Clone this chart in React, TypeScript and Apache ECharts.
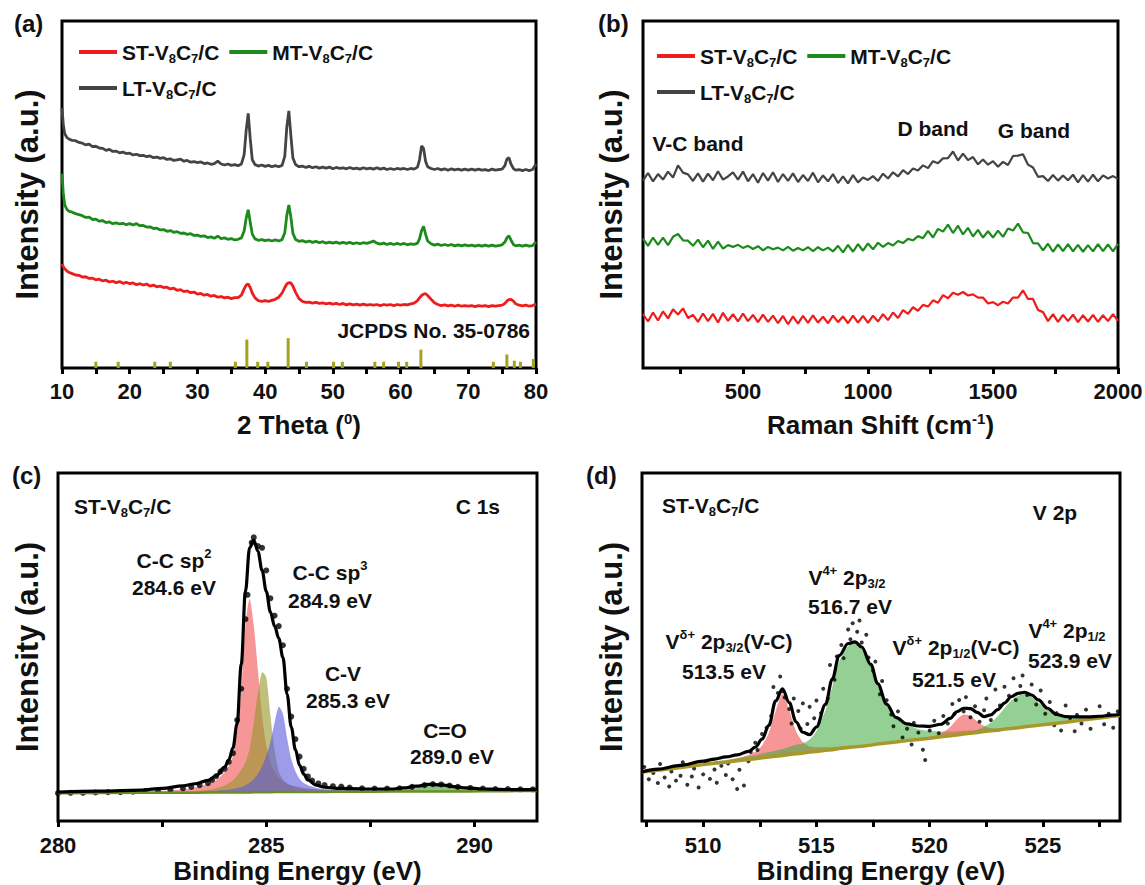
import React, { useEffect, useRef } from 'react';
import * as echarts from 'echarts';

const FONT = 'Arial, "Liberation Sans", Helvetica, sans-serif';
const INK = '#111111';

// ---------------- (a) XRD ----------------
const xrdTheta = [
  10, 10.2, 10.4, 10.7, 11, 11.5, 12, 12.5, 13, 13.5,
  14, 14.5, 15, 15.5, 16, 16.5, 17, 17.5, 18, 18.5,
  19, 19.5, 20, 20.5, 21, 21.5, 22, 22.5, 23, 23.5,
  24, 24.5, 25, 25.5, 26, 26.5, 27, 27.5, 28, 28.5,
  29, 29.5, 30, 30.5, 31, 31.5, 32, 32.5, 33, 33.5,
  34, 34.5, 35, 35.5, 36, 36.5, 36.9, 37.2, 37.5, 37.8,
  38.1, 38.5, 39, 39.5, 40, 40.5, 41, 41.5, 42, 42.5,
  42.9, 43.2, 43.5, 43.8, 44.1, 44.5, 45, 45.5, 46, 46.5,
  47, 47.5, 48, 48.5, 49, 49.5, 50, 50.5, 51, 51.5,
  52, 52.5, 53, 53.5, 54, 54.5, 55, 55.5, 56, 56.5,
  57, 57.5, 58, 58.5, 59, 59.5, 60, 60.5, 61, 61.5,
  62, 62.5, 62.8, 63.1, 63.4, 63.7, 64, 64.5, 65, 65.5,
  66, 66.5, 67, 67.5, 68, 68.5, 69, 69.5, 70, 70.5,
  71, 71.5, 72, 72.5, 73, 73.5, 74, 74.5, 75, 75.4,
  75.7, 76, 76.3, 76.7, 77, 77.5, 78, 78.5, 79, 79.5,
  80,
];
const xrdLT = [
  74.9, 70.0, 67.5, 66.5, 66.0, 65.6, 65.5, 65.0, 64.8, 64.3,
  64.5, 63.8, 63.9, 63.4, 63.3, 62.7, 63.0, 62.4, 62.5, 62.0,
  62.2, 61.8, 61.9, 61.4, 61.6, 61.2, 61.3, 60.9, 61.1, 60.6,
  60.8, 60.4, 60.6, 60.1, 60.3, 59.8, 60.0, 60.2, 59.6, 59.8,
  59.3, 59.5, 59.2, 59.4, 58.9, 59.1, 58.7, 58.9, 59.6, 58.8,
  58.5, 58.8, 58.4, 58.6, 58.3, 58.8, 61.5, 68.5, 73.4, 66.0,
  60.0, 58.6, 58.2, 58.5, 58.1, 58.4, 58.0, 58.3, 58.0, 58.4,
  61.0, 69.5, 74.1, 67.0, 60.5, 58.6, 58.0, 58.2, 57.8, 58.1,
  57.7, 58.0, 57.6, 57.9, 57.6, 57.9, 57.4, 57.8, 57.5, 57.7,
  57.4, 57.8, 57.4, 57.6, 57.3, 57.7, 57.4, 57.6, 57.3, 57.7,
  57.3, 57.6, 57.2, 57.5, 57.2, 57.5, 57.3, 57.5, 57.2, 57.5,
  57.3, 57.9, 60.0, 64.0, 63.2, 59.5, 58.0, 57.5, 57.2, 57.5,
  57.1, 57.4, 57.0, 57.4, 57.1, 57.3, 57.0, 57.3, 57.0, 57.3,
  57.0, 57.3, 57.0, 57.2, 56.9, 57.3, 57.0, 57.2, 57.3, 58.3,
  60.2, 60.6, 58.8, 57.4, 57.0, 57.2, 56.9, 57.2, 56.9, 57.2,
  58.8,
];
const xrdMT = [
  56.0, 50.0, 47.0, 45.8, 45.2, 44.9, 44.5, 44.2, 43.9, 43.4,
  43.5, 42.8, 42.9, 42.3, 42.5, 41.9, 42.1, 41.6, 41.8, 41.5,
  41.7, 41.3, 41.6, 41.2, 41.6, 41.0, 41.1, 40.6, 40.7, 40.2,
  40.3, 39.8, 39.9, 39.4, 39.6, 39.1, 39.3, 38.8, 38.9, 38.5,
  38.7, 38.2, 38.3, 37.9, 38.1, 37.6, 37.8, 37.4, 38.0, 37.3,
  37.5, 37.1, 37.3, 36.9, 37.1, 37.5, 39.5, 43.2, 45.6, 42.0,
  38.6, 37.2, 36.8, 37.0, 36.7, 36.9, 36.6, 36.9, 36.6, 37.0,
  39.0, 44.0, 47.0, 43.5, 38.8, 37.0, 36.5, 36.7, 36.3, 36.6,
  36.2, 36.5, 36.1, 36.4, 36.0, 36.3, 36.0, 36.3, 35.9, 36.2,
  35.9, 36.2, 35.8, 36.1, 35.8, 36.1, 35.9, 36.2, 36.6, 36.0,
  35.7, 36.0, 35.6, 35.9, 35.6, 35.9, 35.6, 35.9, 35.5, 35.8,
  35.6, 36.0, 37.2, 39.6, 40.8, 38.5, 36.6, 35.8, 35.4, 35.7,
  35.3, 35.6, 35.3, 35.6, 35.2, 35.5, 35.2, 35.5, 35.2, 35.4,
  35.1, 35.4, 35.1, 35.4, 35.1, 35.4, 35.1, 35.3, 35.5, 36.3,
  37.5, 38.1, 36.9, 35.5, 35.2, 35.4, 35.1, 35.4, 35.1, 35.3,
  36.3,
];
const xrdST = [
  30.0, 29.2, 28.6, 28.0, 27.6, 27.2, 26.8, 26.7, 26.2, 26.3,
  25.8, 25.9, 25.4, 25.6, 25.1, 25.3, 24.8, 25.0, 24.6, 24.9,
  24.4, 24.7, 24.3, 24.5, 24.0, 24.3, 23.9, 24.2, 23.6, 23.9,
  23.4, 23.6, 23.2, 23.3, 22.8, 23.0, 22.4, 22.6, 22.0, 22.2,
  21.7, 21.9, 21.3, 21.5, 21.0, 21.2, 20.7, 20.9, 20.4, 20.6,
  20.2, 20.4, 20.0, 20.3, 20.3, 21.0, 22.8, 23.9, 24.2, 23.2,
  21.6, 20.2, 19.4, 19.2, 19.4, 19.2, 19.5, 19.8, 20.4, 21.6,
  23.2, 24.2, 24.6, 24.5, 23.6, 21.8, 20.0, 19.2, 18.9, 19.0,
  18.7, 18.9, 18.6, 18.8, 18.5, 18.7, 18.4, 18.6, 18.3, 18.6,
  18.2, 18.5, 18.2, 18.4, 18.1, 18.4, 18.1, 18.3, 18.1, 18.3,
  18.0, 18.3, 18.1, 18.3, 18.0, 18.3, 18.1, 18.3, 18.2, 18.5,
  18.7, 19.4, 20.2, 20.9, 21.3, 21.4, 20.9, 19.8, 18.8, 18.3,
  18.0, 18.2, 17.9, 18.1, 17.8, 18.1, 17.8, 18.0, 17.8, 18.0,
  17.7, 18.0, 17.8, 18.0, 17.7, 18.0, 17.8, 18.0, 18.1, 18.6,
  19.3, 19.7, 19.8, 19.2, 18.5, 18.1, 17.9, 18.1, 17.8, 18.0,
  18.4,
];
const jcpdsTheta = [15.0, 18.3, 23.7, 26.0, 35.6, 37.3, 38.9, 40.4, 43.4, 46.1, 50.1, 51.4, 56.2, 57.5, 59.7, 60.9, 63.0, 73.7, 75.7, 76.8, 77.7, 79.6];
const jcpdsHeight = [1.8, 1.8, 1.8, 1.8, 1.8, 8.2, 1.8, 1.8, 8.6, 1.8, 1.8, 1.8, 1.8, 1.8, 1.8, 1.8, 5.3, 1.8, 3.9, 2.1, 1.8, 2.6];
const xrdTicks = [10, 15, 20, 25, 30, 35, 40, 45, 50, 55, 60, 65, 70, 75, 80];
const xrdLabels = [10, 20, 30, 40, 50, 60, 70, 80];

// ---------------- (b) Raman ----------------
const ramanShift = [
  100, 120, 140, 160, 180, 200, 220, 240, 260, 280,
  300, 320, 340, 360, 380, 400, 420, 440, 460, 480,
  500, 520, 540, 560, 580, 600, 620, 640, 660, 680,
  700, 720, 740, 760, 780, 800, 820, 840, 860, 880,
  900, 920, 940, 960, 980, 1000, 1020, 1040, 1060, 1080,
  1100, 1120, 1140, 1160, 1180, 1200, 1220, 1240, 1260, 1280,
  1300, 1320, 1340, 1360, 1380, 1400, 1420, 1440, 1460, 1480,
  1500, 1520, 1540, 1560, 1580, 1600, 1620, 1640, 1660, 1680,
  1700, 1720, 1740, 1760, 1780, 1800, 1820, 1840, 1860, 1880,
  1900, 1920, 1940, 1960, 1980, 2000,
];
const ramanLT = [
  54.0, 56.2, 53.8, 55.9, 54.3, 56.6, 54.9, 58.4, 56.3, 55.8,
  53.9, 56.1, 53.7, 56.0, 54.1, 56.7, 54.3, 55.2, 56.4, 54.3,
  56.6, 53.8, 55.9, 53.4, 56.2, 54.0, 56.4, 53.6, 55.9, 53.9,
  56.1, 53.6, 55.6, 53.9, 56.3, 53.5, 55.5, 53.8, 55.9, 53.3,
  55.2, 53.2, 55.6, 53.5, 54.9, 54.2, 55.3, 53.9, 56.0, 54.6,
  56.4, 55.2, 57.0, 55.9, 57.5, 56.9, 58.4, 57.6, 59.6, 59.0,
  60.4, 60.5, 62.4, 59.8, 61.8, 59.9, 60.8, 58.7, 60.1, 58.6,
  59.6, 58.0, 59.4, 58.5, 61.1, 61.2, 61.6, 58.6, 57.8, 55.1,
  55.3, 53.9, 55.6, 54.0, 55.5, 54.1, 55.7, 53.5, 55.6, 53.7,
  55.7, 53.8, 55.5, 54.6, 55.3, 54.5,
];
const ramanMT = [
  37.3, 35.2, 37.6, 35.5, 37.6, 35.4, 37.8, 38.6, 36.8, 36.7,
  35.2, 37.0, 34.8, 36.7, 34.3, 36.4, 34.4, 35.4, 34.9, 35.5,
  34.6, 35.2, 34.3, 35.1, 33.9, 34.9, 34.2, 34.7, 33.9, 34.9,
  33.8, 34.6, 33.9, 34.8, 33.7, 34.8, 33.9, 34.7, 33.6, 35.2,
  33.3, 35.5, 33.5, 35.7, 33.8, 35.9, 34.2, 36.1, 34.9, 36.0,
  35.3, 36.6, 36.0, 37.2, 36.8, 38.0, 37.4, 39.5, 37.6, 40.1,
  39.3, 41.3, 38.9, 41.0, 38.5, 40.4, 37.9, 39.8, 37.6, 39.4,
  37.6, 39.6, 37.8, 40.2, 39.6, 41.6, 39.1, 38.9, 36.0, 35.9,
  33.9, 35.8, 33.5, 35.6, 33.7, 35.7, 33.6, 35.5, 33.5, 35.4,
  33.6, 35.7, 33.7, 35.6, 33.6, 35.8,
];
const ramanST = [
  15.5, 13.4, 16.0, 13.7, 16.3, 14.3, 16.9, 15.4, 17.2, 14.4,
  15.3, 13.3, 15.7, 13.5, 15.6, 13.1, 15.9, 13.6, 15.5, 13.4,
  15.7, 13.5, 15.3, 13.2, 15.4, 13.3, 15.1, 12.9, 15.0, 12.6,
  14.9, 12.8, 15.0, 13.0, 15.2, 13.1, 14.8, 12.9, 15.1, 13.2,
  14.9, 12.9, 15.1, 13.1, 15.0, 13.0, 15.1, 13.4, 15.5, 13.8,
  16.0, 14.4, 16.7, 15.6, 17.5, 16.5, 18.2, 17.7, 19.5, 18.8,
  21.0, 20.1, 21.7, 21.1, 21.9, 20.9, 21.2, 20.3, 20.3, 18.6,
  19.0, 18.1, 19.1, 18.6, 20.3, 20.3, 22.4, 19.9, 19.9, 16.7,
  16.1, 13.5, 15.5, 13.3, 15.3, 13.5, 15.4, 13.2, 15.2, 13.4,
  15.3, 13.3, 15.2, 13.5, 15.5, 13.6,
];
const ramanTicks = [250, 500, 750, 1000, 1250, 1500, 1750, 2000];
const ramanLabels = [500, 1000, 1500, 2000];

// ---------------- (c) C 1s ----------------
const c1sEnergy = [
  280, 281, 282, 282.5, 283, 283.3, 283.6, 283.8, 284.0, 284.1,
  284.2, 284.3, 284.4, 284.5, 284.6, 284.7, 284.8, 284.9, 285.0, 285.1,
  285.2, 285.3, 285.4, 285.5, 285.6, 285.7, 285.8, 285.9, 286.0, 286.2,
  286.4, 286.7, 287, 287.5, 288, 288.3, 288.6, 288.9, 289.2, 289.5,
  289.8, 290.2, 290.6, 291, 291.5,
];
const c1sBackground = [
  8.0, 8.05, 8.1, 8.1, 8.15, 8.15, 8.2, 8.2, 8.2, 8.2,
  8.2, 8.2, 8.2, 8.2, 8.2, 8.25, 8.25, 8.25, 8.25, 8.25,
  8.3, 8.3, 8.3, 8.3, 8.3, 8.3, 8.3, 8.3, 8.35, 8.35,
  8.35, 8.4, 8.4, 8.4, 8.45, 8.45, 8.45, 8.5, 8.5, 8.5,
  8.5, 8.55, 8.55, 8.6, 8.6,
];
const c1sSp2 = [
  0.1, 0.2, 0.4, 0.6, 1.0, 1.5, 2.4, 3.5, 5.8, 7.6,
  10.5, 17.5, 29.0, 48.0, 55.6, 48.0, 35.0, 22.0, 13.5, 8.5,
  5.8, 4.2, 3.2, 2.5, 2.0, 1.7, 1.4, 1.2, 1.0, 0.8,
  0.6, 0.5, 0.4, 0.3, 0.2, 0.2, 0.2, 0.1, 0.1, 0.1,
  0.1, 0.1, 0.1, 0.1, 0.1,
];
const c1sSp3 = [
  0.1, 0.1, 0.2, 0.2, 0.3, 0.5, 0.8, 1.2, 2.0, 2.6,
  3.5, 4.8, 6.5, 8.7, 12.5, 20.0, 28.5, 34.5, 33.0, 22.0,
  12.0, 6.0, 3.6, 2.4, 1.8, 1.4, 1.1, 0.9, 0.8, 0.6,
  0.5, 0.4, 0.3, 0.2, 0.2, 0.1, 0.1, 0.1, 0.1, 0.1,
  0.1, 0.1, 0.1, 0.1, 0.1,
];
const c1sCV = [
  0, 0, 0.1, 0.1, 0.2, 0.2, 0.3, 0.5, 0.7, 0.8,
  1.0, 1.3, 1.6, 2.1, 2.8, 3.8, 5.3, 7.5, 10.5, 14.5,
  20.0, 24.5, 22.5, 15.5, 9.5, 6.0, 3.8, 2.6, 1.9, 1.2,
  0.8, 0.5, 0.4, 0.3, 0.2, 0.1, 0.1, 0.1, 0.1, 0.1,
  0.1, 0, 0, 0, 0,
];
const c1sCO = [
  0, 0, 0, 0, 0, 0, 0, 0, 0, 0,
  0, 0, 0, 0, 0, 0, 0, 0, 0, 0,
  0, 0, 0, 0, 0, 0, 0, 0, 0, 0,
  0, 0, 0, 0.1, 0.2, 0.5, 1.0, 1.6, 1.6, 1.1,
  0.6, 0.3, 0.1, 0.1, 0,
];
const c1sFit = [
  8.3, 8.6, 8.9, 9.4, 10.1, 10.7, 11.7, 13.0, 15.5, 17.5,
  21.0, 28.0, 45.0, 66.0, 78.5, 80.7, 77.5, 72.0, 66.0, 60.0,
  56.0, 52.5, 47.0, 36.5, 27.0, 20.5, 16.0, 13.5, 11.8, 10.3,
  9.7, 9.4, 9.3, 9.2, 9.2, 9.5, 10.0, 10.5, 10.4, 9.9,
  9.5, 9.2, 9.1, 9.0, 9.0,
];
const c1sMeasured = [
  [280.0, 8.0], [280.3, 8.1], [280.6, 8.1], [280.9, 8.2], [281.2, 8.3], [281.5, 8.3], [281.8, 8.4],
  [282.1, 8.6], [282.4, 8.8], [282.7, 9.0], [283.0, 9.4], [283.2, 9.8], [283.4, 10.3], [283.6, 10.9],
  [283.7, 11.8], [283.8, 12.9], [283.9, 14.2], [284.0, 15.0], [284.1, 17.0], [284.2, 19.5], [284.3, 29.0],
  [284.4, 38.0], [284.5, 58.0], [284.55, 65.0], [284.65, 80.0], [284.7, 81.5], [284.8, 79.0], [284.9, 78.5],
  [285.0, 72.0], [285.1, 64.0], [285.2, 59.0], [285.3, 56.0], [285.4, 50.5], [285.5, 38.0], [285.6, 30.0],
  [285.7, 23.5], [285.8, 18.5], [285.9, 15.0], [286.0, 12.8], [286.1, 11.6], [286.25, 10.8], [286.4, 10.3],
  [286.6, 10.0], [286.8, 9.9], [287.0, 9.6], [287.3, 9.4], [287.6, 9.3], [287.9, 9.3], [288.2, 9.4],
  [288.5, 9.8], [288.8, 10.3], [289.0, 10.6], [289.2, 10.5], [289.4, 10.2], [289.6, 9.8], [289.9, 9.5],
  [290.2, 9.3], [290.5, 9.2], [290.8, 9.2], [291.1, 9.1], [291.4, 9.1],
];
const c1sTicks = [280, 282.5, 285, 287.5, 290];
const c1sLabels = [280, 285, 290];

// ---------------- (d) V 2p ----------------
const v2pEnergy = [
  507.3, 508, 509, 510, 510.5, 511, 511.5, 512, 512.3, 512.6,
  512.9, 513.2, 513.5, 513.8, 514.1, 514.4, 514.7, 515.0, 515.4, 515.7,
  516.0, 516.4, 516.7, 517.0, 517.4, 517.7, 518.1, 518.5, 519.0, 519.5,
  520.0, 520.5, 520.9, 521.2, 521.5, 521.8, 522.1, 522.4, 522.7, 523.0,
  523.3, 523.6, 523.9, 524.2, 524.5, 524.8, 525.2, 525.6, 526.0, 526.5,
  527.0, 527.5, 528.0, 528.4,
];
const v2pBackground = [
  14.1, 14.6, 15.4, 16.2, 16.6, 16.9, 17.3, 17.7, 17.9, 18.2,
  18.4, 18.6, 18.8, 19.1, 19.3, 19.5, 19.8, 20.0, 20.3, 20.5,
  20.8, 21.1, 21.3, 21.5, 21.8, 22.1, 22.4, 22.7, 23.1, 23.4,
  23.8, 24.2, 24.5, 24.7, 25.0, 25.2, 25.4, 25.7, 25.9, 26.1,
  26.4, 26.6, 26.8, 27.1, 27.3, 27.5, 27.8, 28.1, 28.4, 28.8,
  29.2, 29.6, 30.0, 30.3,
];
const v2pVd32 = [
  0.1, 0.1, 0.2, 0.3, 0.4, 0.5, 0.8, 1.3, 2.0, 3.5,
  7.0, 13.0, 17.7, 12.8, 6.5, 3.2, 1.6, 1.2, 0.9, 0.7,
  0.6, 0.5, 0.4, 0.3, 0.3, 0.2, 0.2, 0.2, 0.1, 0.1,
  0.1, 0.1, 0, 0, 0, 0, 0, 0, 0, 0,
  0, 0, 0, 0, 0, 0, 0, 0, 0, 0,
  0, 0, 0, 0,
];
const v2pV4p32 = [
  0.2, 0.2, 0.3, 0.4, 0.5, 0.6, 0.7, 0.9, 1.0, 1.2,
  1.4, 1.6, 1.9, 2.2, 2.6, 2.8, 3.6, 5.8, 11.5, 18.0,
  25.0, 29.2, 30.0, 28.6, 23.0, 17.2, 11.0, 7.0, 4.6, 3.0,
  2.1, 1.5, 1.2, 1.0, 0.9, 0.8, 0.7, 0.6, 0.5, 0.5,
  0.4, 0.4, 0.3, 0.3, 0.3, 0.3, 0.2, 0.2, 0.2, 0.2,
  0.1, 0.1, 0.1, 0.1,
];
const v2pVd12 = [
  0, 0, 0, 0, 0, 0, 0, 0, 0, 0,
  0, 0, 0, 0, 0, 0, 0, 0, 0, 0,
  0, 0, 0, 0, 0, 0, 0, 0, 0.1, 0.2,
  0.3, 0.9, 2.5, 4.5, 5.6, 5.0, 3.2, 1.6, 0.8, 0.4,
  0.2, 0.1, 0.1, 0, 0, 0, 0, 0, 0, 0,
  0, 0, 0, 0,
];
const v2pV4p12 = [
  0, 0, 0, 0, 0, 0, 0, 0, 0, 0,
  0, 0, 0, 0, 0, 0, 0, 0, 0, 0,
  0, 0, 0, 0, 0, 0, 0, 0, 0, 0,
  0, 0.1, 0.2, 0.2, 0.3, 0.5, 0.8, 1.4, 2.4, 4.0,
  6.0, 8.0, 9.2, 9.4, 8.3, 6.5, 4.2, 2.6, 1.6, 0.9,
  0.5, 0.3, 0.2, 0.1,
];
const v2pFit = [
  14.1, 14.9, 16.0, 17.2, 17.8, 18.4, 19.0, 20.0, 21.2, 23.5,
  27.5, 34.5, 38.0, 34.0, 28.5, 25.5, 24.8, 27.0, 33.5, 40.8,
  47.5, 51.0, 51.5, 50.0, 45.0, 39.5, 33.6, 29.8, 27.9, 27.3,
  27.2, 27.8, 29.5, 31.4, 32.4, 32.3, 31.2, 30.0, 30.5, 32.0,
  33.9, 35.7, 36.7, 37.0, 36.2, 34.8, 32.4, 30.6, 30.0, 29.9,
  29.9, 30.1, 30.4, 30.6,
];
const v2pMeasured = [
  [507.4, 15.5], [507.6, 12.0], [507.8, 13.8], [508.0, 10.9], [508.1, 16.4], [508.3, 12.5], [508.5, 9.9],
  [508.6, 14.2], [508.8, 11.6], [509.0, 13.0], [509.1, 16.9], [509.3, 10.4], [509.5, 12.8], [509.6, 15.1],
  [509.8, 9.6], [510.0, 13.4], [510.1, 17.0], [510.3, 12.1], [510.5, 14.8], [510.6, 11.0], [510.8, 15.9],
  [511.0, 13.2], [511.1, 16.5], [511.3, 12.0], [511.5, 9.2], [511.6, 14.7], [511.8, 10.2], [512.0, 17.2],
  [512.1, 19.8], [512.3, 22.5], [512.4, 20.4], [512.6, 25.0], [512.8, 26.8], [513.0, 30.2], [513.1, 38.5],
  [513.3, 36.8], [513.4, 41.5], [513.5, 37.3], [513.6, 35.5], [513.8, 32.2], [513.9, 28.0], [514.0, 35.2],
  [514.2, 31.6], [514.3, 26.5], [514.4, 33.8], [514.6, 27.9], [514.7, 32.8], [514.9, 29.5], [515.0, 34.6],
  [515.2, 31.0], [515.3, 38.0], [515.5, 35.2], [515.6, 44.8], [515.8, 40.6], [515.9, 47.3], [516.1, 50.6],
  [516.2, 46.8], [516.4, 55.0], [516.5, 52.2], [516.6, 56.8], [516.8, 54.4], [516.9, 57.6], [517.0, 51.3],
  [517.2, 53.5], [517.3, 47.0], [517.5, 43.2], [517.6, 45.8], [517.8, 36.4], [517.9, 40.2], [518.1, 34.7],
  [518.3, 30.6], [518.4, 27.2], [518.6, 31.5], [518.8, 24.0], [519.0, 26.5], [519.2, 22.0], [519.3, 28.2],
  [519.5, 25.4], [519.7, 20.5], [519.8, 17.5], [520.0, 26.0], [520.2, 28.8], [520.4, 25.2], [520.6, 30.2],
  [520.8, 28.0], [521.0, 33.6], [521.1, 30.8], [521.3, 34.8], [521.5, 31.5], [521.6, 35.6], [521.8, 29.8],
  [522.0, 33.0], [522.2, 28.5], [522.4, 31.8], [522.5, 35.2], [522.7, 29.0], [522.9, 37.8], [523.1, 33.2],
  [523.3, 38.6], [523.5, 36.0], [523.7, 41.0], [523.8, 34.8], [524.0, 38.8], [524.1, 41.8], [524.3, 36.2],
  [524.5, 39.2], [524.7, 33.5], [524.9, 37.5], [525.1, 30.8], [525.3, 34.2], [525.5, 27.5], [525.6, 31.0],
  [525.8, 26.0], [526.0, 33.2], [526.2, 29.5], [526.4, 25.8], [526.5, 30.5], [526.7, 28.0], [526.9, 32.0],
  [527.1, 26.5], [527.3, 29.8], [527.5, 33.0], [527.7, 27.8], [527.9, 30.8], [528.1, 26.8], [528.3, 31.5],
];
const v2pTicks = [507.5, 510, 512.5, 515, 517.5, 520, 522.5, 525, 527.5];
const v2pLabels = [510, 515, 520, 525];

// ---------------- helpers ----------------
const zip = (xs: number[], ys: number[]) => xs.map((x, i) => [x, ys[i]]);

const RICH_MODEL = {
  sub: { fontSize: 13, fontWeight: 'bold', fontFamily: FONT, color: INK, lineHeight: 14, verticalAlign: 'bottom' },
  sup: { fontSize: 15, fontWeight: 'bold', fontFamily: FONT, color: INK, lineHeight: 16, verticalAlign: 'top' },
};
const RICH_G = {
  sub: { font: `bold 13px ${FONT}`, fontSize: 13, fontWeight: 'bold', fontFamily: FONT, fill: INK, lineHeight: 13, verticalAlign: 'bottom' },
  sup: { font: `bold 13px ${FONT}`, fontSize: 13, fontWeight: 'bold', fontFamily: FONT, fill: INK, lineHeight: 14, verticalAlign: 'top' },
};

function gText(x: number, y: number, text: string, size = 21, align = 'center') {
  return {
    type: 'text',
    x,
    y,
    silent: true,
    z: 100,
    style: {
      text,
      fill: INK,
      font: `bold ${size}px ${FONT}`,
      fontSize: size,
      fontWeight: 'bold',
      fontFamily: FONT,
      align,
      textAlign: align,
      verticalAlign: 'middle',
      textVerticalAlign: 'middle',
      lineHeight: 26,
      rich: RICH_G,
    },
  };
}

function xAxis(gridIndex: number, min: number, max: number, ticks: number[], labels: number[], name: string, nameGap: number, labelMargin: number) {
  return {
    type: 'value',
    gridIndex,
    min,
    max,
    name,
    nameLocation: 'middle',
    nameGap,
    nameTextStyle: { fontSize: 26, fontWeight: 'bold', fontFamily: FONT, color: INK, lineHeight: 28, rich: RICH_MODEL },
    axisLine: { show: false },
    axisTick: { show: true, inside: false, length: 6, lineStyle: { color: '#000', width: 3 }, customValues: ticks },
    axisLabel: {
      show: true,
      margin: labelMargin,
      fontSize: 22,
      fontWeight: 'bold',
      fontFamily: FONT,
      color: INK,
      customValues: labels,
      formatter: (v: number) => String(v),
    },
    splitLine: { show: false },
  };
}

function yAxis(gridIndex: number, nameGap: number) {
  return {
    type: 'value',
    gridIndex,
    min: 0,
    max: 100,
    name: 'Intensity (a.u.)',
    nameLocation: 'middle',
    nameGap,
    nameTextStyle: { fontSize: 31, fontWeight: 'bold', fontFamily: FONT, color: INK, lineHeight: 34 },
    axisLine: { show: false },
    axisTick: { show: false },
    axisLabel: { show: false },
    splitLine: { show: false },
  };
}

function plainLine(idx: number, name: string | undefined, data: number[][], color: string, width: number, smooth: number | boolean = false) {
  return {
    type: 'line',
    name,
    xAxisIndex: idx,
    yAxisIndex: idx,
    data,
    symbol: 'none',
    showSymbol: false,
    smooth,
    smoothMonotone: 'x',
    lineStyle: { color, width },
    itemStyle: { color },
    silent: true,
  };
}

// filled fit component between the background and background + component,
// positioned through the axis scales with api.coord
function peakFill(idx: number, xs: number[], base: number[], comp: number[], color: string) {
  return {
    type: 'custom',
    coordinateSystem: 'cartesian2d',
    xAxisIndex: idx,
    yAxisIndex: idx,
    data: [[xs[0], base[0]]],
    silent: true,
    clip: true,
    renderItem: (_params: any, api: any) => {
      const upper = xs.map((x, i) => api.coord([x, base[i] + comp[i]]));
      const lower = xs.map((x, i) => api.coord([x, base[i]])).reverse();
      return {
        type: 'polygon',
        shape: { points: upper.concat(lower), smooth: 0.25 },
        style: { fill: color, stroke: 'none' },
      };
    },
  };
}

const legendBase = (left: number, top: number) => ({
  left,
  top,
  width: 320,
  orient: 'horizontal',
  icon: 'rect',
  itemWidth: 38,
  itemHeight: 4,
  itemGap: 10,
  data: ['ST', 'MT', 'LT'],
  selectedMode: false,
  formatter: (name: string) => `${name}-V{sub|8}C{sub|7}/C`,
  textStyle: { fontSize: 21, fontWeight: 'bold', fontFamily: FONT, color: INK, lineHeight: 26, rich: RICH_MODEL },
});

const RED = '#ee1c1c';
const GREEN = '#1d8a1d';
const GRAY = '#444444';

function buildOption() {
  const grids = [
    { left: 62, top: 21, width: 474, height: 347 },
    { left: 643, top: 21, width: 475, height: 347 },
    { left: 58, top: 473, width: 479, height: 348 },
    { left: 642, top: 473, width: 478, height: 348 },
  ].map((g) => ({ ...g, show: true, borderColor: '#000', borderWidth: 3, backgroundColor: 'rgba(0,0,0,0)', containLabel: false, outerBoundsMode: 'none' }));

  const series: any[] = [];
  // (a)
  series.push({
    type: 'bar',
    xAxisIndex: 0,
    yAxisIndex: 0,
    data: zip(jcpdsTheta, jcpdsHeight),
    barWidth: 3,
    itemStyle: { color: '#a3a31c' },
    silent: true,
  });
  series.push(plainLine(0, 'ST', zip(xrdTheta, xrdST), RED, 2.8));
  series.push(plainLine(0, 'MT', zip(xrdTheta, xrdMT), GREEN, 2.8));
  series.push(plainLine(0, 'LT', zip(xrdTheta, xrdLT), GRAY, 2.8));
  // (b)
  series.push(plainLine(1, 'ST', zip(ramanShift, ramanST), RED, 2.2));
  series.push(plainLine(1, 'MT', zip(ramanShift, ramanMT), GREEN, 2.2));
  series.push(plainLine(1, 'LT', zip(ramanShift, ramanLT), GRAY, 2.2));
  // (c)
  series.push(peakFill(2, c1sEnergy, c1sBackground, c1sSp2, 'rgba(240,80,80,0.6)'));
  series.push(peakFill(2, c1sEnergy, c1sBackground, c1sSp3, 'rgba(150,150,40,0.6)'));
  series.push(peakFill(2, c1sEnergy, c1sBackground, c1sCV, 'rgba(90,90,220,0.6)'));
  series.push(peakFill(2, c1sEnergy, c1sBackground, c1sCO, 'rgba(60,150,40,0.6)'));
  series.push(plainLine(2, undefined, zip(c1sEnergy, c1sBackground), '#6b8e23', 2.5));
  series.push(plainLine(2, undefined, zip(c1sEnergy, c1sFit), '#000000', 3.2, 0.35));
  series.push({
    type: 'scatter',
    xAxisIndex: 2,
    yAxisIndex: 2,
    data: c1sMeasured,
    symbolSize: 6,
    itemStyle: { color: '#000' },
    silent: true,
  });
  // (d)
  series.push(peakFill(3, v2pEnergy, v2pBackground, v2pVd32, 'rgba(240,80,80,0.6)'));
  series.push(peakFill(3, v2pEnergy, v2pBackground, v2pV4p32, 'rgba(60,170,60,0.55)'));
  series.push(peakFill(3, v2pEnergy, v2pBackground, v2pVd12, 'rgba(240,80,80,0.6)'));
  series.push(peakFill(3, v2pEnergy, v2pBackground, v2pV4p12, 'rgba(60,170,60,0.55)'));
  series.push(plainLine(3, undefined, zip(v2pEnergy, v2pBackground), '#a8982a', 3.5));
  series.push(plainLine(3, undefined, zip(v2pEnergy, v2pFit), '#000000', 3.2, 0.35));
  series.push({
    type: 'scatter',
    xAxisIndex: 3,
    yAxisIndex: 3,
    data: v2pMeasured,
    symbolSize: 4,
    itemStyle: { color: '#000' },
    silent: true,
  });

  const graphic = [
    gText(14, 23, '(a)', 24, 'left'),
    gText(598, 23, '(b)', 24, 'left'),
    gText(12, 475, '(c)', 24, 'left'),
    gText(586, 475, '(d)', 24, 'left'),
    gText(530, 330, 'JCPDS No. 35-0786', 21, 'right'),
    gText(698, 143, 'V-C band'),
    gText(933, 128, 'D band'),
    gText(1034, 130, 'G band'),
    gText(74, 506, 'ST-V{sub|8}C{sub|7}/C', 21, 'left'),
    gText(500, 506, 'C 1s', 21, 'right'),
    gText(174, 560, 'C-C sp{sup|2}'),
    gText(174, 587, '284.6 eV'),
    gText(330, 572, 'C-C sp{sup|3}'),
    gText(330, 600, '284.9 eV'),
    gText(343, 673, 'C-V'),
    gText(348, 700, '285.3 eV'),
    gText(445, 730, 'C=O'),
    gText(452, 756, '289.0 eV'),
    gText(662, 505, 'ST-V{sub|8}C{sub|7}/C', 21, 'left'),
    gText(1055, 512, 'V 2p'),
    gText(847, 577, 'V{sup|4+} 2p{sub|3/2}'),
    gText(850, 606, '516.7 eV'),
    gText(729, 641, 'V{sup|δ+} 2p{sub|3/2}(V-C)'),
    gText(724, 671, '513.5 eV'),
    gText(956, 647, 'V{sup|δ+} 2p{sub|1/2}(V-C)'),
    gText(954, 679, '521.5 eV'),
    gText(1067, 630, 'V{sup|4+} 2p{sub|1/2}'),
    gText(1070, 660, '523.9 eV'),
  ];

  return {
    animation: false,
    backgroundColor: '#ffffff',
    textStyle: { fontFamily: FONT },
    grid: grids,
    legend: [legendBase(74, 34), legendBase(652, 38)],
    xAxis: [
      xAxis(0, 10, 80, xrdTicks, xrdLabels, '2 Theta ({sup|0})', 43, 12),
      xAxis(1, 100, 2000, ramanTicks, ramanLabels, 'Raman Shift (cm{sup|-1})', 43, 12),
      xAxis(2, 280, 291.5, c1sTicks, c1sLabels, 'Binding Energy (eV)', 32, 13),
      xAxis(3, 507.3, 528.4, v2pTicks, v2pLabels, 'Binding Energy (eV)', 32, 13),
    ],
    yAxis: [yAxis(0, 18), yAxis(1, 15), yAxis(2, 14), yAxis(3, 14)],
    series,
    graphic,
  };
}

export default function App() {
  const ref = useRef<HTMLDivElement | null>(null);
  useEffect(() => {
    if (!ref.current) return;
    const chart = echarts.init(ref.current, undefined, { renderer: 'svg' });
    chart.setOption(buildOption() as any);
    return () => {
      chart.dispose();
    };
  }, []);
  return (
    <div
      ref={ref}
      style={{ position: 'fixed', left: 0, top: 0, width: 1145, height: 885, background: '#fff' }}
    />
  );
}
